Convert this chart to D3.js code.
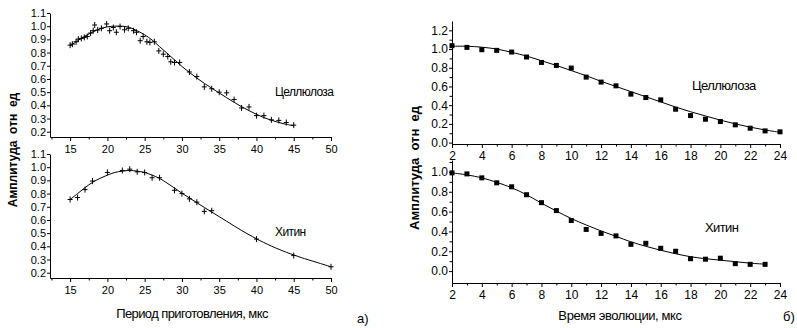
<!DOCTYPE html>
<html>
<head>
<meta charset="utf-8">
<script src="https://cdn.jsdelivr.net/npm/d3@7"></script>
<style>
body{margin:0;background:#fff;}
svg{display:block;}
.ax path,.ax line{stroke:#000;stroke-width:1;}
.ax text{fill:#000;}
</style>
</head>
<body>
<svg id="chart" width="797" height="328"></svg>
<script>
// а) период приготовления
var celluloseX=[15,15.3,15.8,16.1,16.5,16.9,17.3,17.75,18.1,18.3,18.7,19.2,19.9,20.3,20.8,21.2,21.7,22.3,22.8,23.5,23.9,24.4,24.8,25.3,25.7,26.3,26.9,27.5,28.1,28.5,29,29.7,31,32,33,34,35,36,37,38,39,40,41,42,43,44,45];
var celluloseY=[0.856,0.864,0.882,0.902,0.907,0.915,0.922,0.948,0.966,1.009,0.971,0.984,1.017,0.966,0.99,0.954,0.997,0.973,0.984,0.966,0.954,0.89,0.922,0.882,0.877,0.882,0.813,0.788,0.77,0.73,0.725,0.725,0.653,0.618,0.54,0.526,0.5,0.495,0.444,0.38,0.388,0.322,0.322,0.29,0.286,0.27,0.25];
var celluloseFitX=[15,16,17,18,19,20,21,22,23,24,25,26,27,28,29,30,31,32,33,34,35,36,37,38,39,40,41,42,43,44,45];
var celluloseFitY=[0.85,0.89,0.925,0.955,0.98,0.995,1.0,1.0,0.99,0.965,0.935,0.895,0.845,0.795,0.745,0.695,0.65,0.607,0.567,0.53,0.494,0.458,0.423,0.39,0.36,0.332,0.307,0.287,0.27,0.256,0.245];

var chitinX=[15,16,17,18,20,22,23,24,25,26,27,29,30,31,32,33,34,40,45,50];
var chitinY=[0.755,0.77,0.83,0.895,0.96,0.975,0.985,0.965,0.96,0.92,0.92,0.825,0.8,0.76,0.735,0.665,0.67,0.455,0.33,0.245];
var chitinFitX=[15,16,17,18,19,20,21,22,23,24,25,26,27,28,29,30,31,32,33,34,35,36,37,38,39,40,42,44,45,46,48,50];
var chitinFitY=[0.755,0.8,0.845,0.885,0.915,0.94,0.96,0.97,0.975,0.97,0.96,0.94,0.915,0.88,0.842,0.803,0.767,0.731,0.695,0.66,0.625,0.59,0.555,0.52,0.488,0.457,0.402,0.355,0.335,0.315,0.28,0.245];

// б) время эволюции
var evoCelluloseX=[2,3,4,5,6,7,8,9,10,11,12,13,14,15,16,17,18,19,20,21,22,23,24];
var evoCelluloseY=[1.036,1.018,0.993,0.986,0.968,0.915,0.857,0.825,0.797,0.7,0.647,0.607,0.518,0.482,0.457,0.357,0.289,0.25,0.225,0.19,0.154,0.125,0.115];
var evoCelluloseFitX=[2,3,4,5,6,7,8,9,10,11,12,13,14,15,16,17,18,19,20,21,22,23,24];
var evoCelluloseFitY=[1.03,1.03,1.02,1.0,0.965,0.925,0.875,0.825,0.77,0.715,0.655,0.6,0.545,0.49,0.435,0.38,0.33,0.285,0.24,0.2,0.165,0.135,0.11];

var evoChitinX=[2,3,4,5,6,7,8,9,10,11,12,13,14,15,16,17,18,19,20,21,22,23];
var evoChitinY=[0.99,0.98,0.94,0.89,0.85,0.77,0.69,0.61,0.51,0.42,0.38,0.355,0.27,0.28,0.23,0.2,0.125,0.12,0.13,0.075,0.068,0.068];
var evoChitinFitX=[2,3,4,5,6,7,8,9,10,11,12,13,14,15,16,17,18,19,20,21,22,23];
var evoChitinFitY=[0.99,0.97,0.94,0.895,0.84,0.77,0.685,0.605,0.53,0.465,0.405,0.35,0.295,0.25,0.21,0.175,0.145,0.125,0.11,0.095,0.08,0.07];

var leftMajorX=[15,20,25,30,35,40,45,50];
var leftMinorX=[12.5,17.5,22.5,27.5,32.5,37.5,42.5,47.5];
var leftTicksY=[0.2,0.3,0.4,0.5,0.6,0.7,0.8,0.9,1.0,1.1];
var rightMajorX=[2,4,6,8,10,12,14,16,18,20,22,24];
var rightMinorX=[3,5,7,9,11,13,15,17,19,21,23];
var rightMajorY=[0,0.2,0.4,0.6,0.8,1.0,1.2];
var rightMinorY=[0.1,0.3,0.5,0.7,0.9,1.1];

var svg=d3.select("#chart");
var narrow="'Liberation Sans Narrow','Arial Narrow','Liberation Sans',sans-serif";
var sans="'Liberation Sans',Arial,sans-serif";

function drawPanel(p){
	var x=d3.scaleLinear().domain(p.xDomain).range([p.left,p.right]);
	var y=d3.scaleLinear().domain(p.yDomain).range([p.bottom,p.top]);

	var g=svg.append("g");

	// minor ticks first
	g.append("g").classed("ax",true)
	.attr("transform","translate(0,"+p.bottom+")")
	.call(d3.axisBottom(x).tickValues(p.minorX).tickSize(2.5).tickFormat(""))
	.select(".domain").remove();
	if(p.minorY){
		g.append("g").classed("ax",true)
		.attr("transform","translate("+p.left+",0)")
		.call(d3.axisLeft(y).tickValues(p.minorY).tickSize(2.5).tickFormat(""))
		.select(".domain").remove();
	}

	var xa=g.append("g").classed("ax",true)
	.attr("transform","translate(0,"+p.bottom+")")
	.call(d3.axisBottom(x).tickValues(p.majorX).tickSize(4).tickSizeOuter(0).tickPadding(p.xPad).tickFormat(d3.format("d")));
	xa.selectAll("text").style("font-family",p.font).style("font-size",p.fontSize+"px");

	var ya=g.append("g").classed("ax",true)
	.attr("transform","translate("+p.left+",0)")
	.call(d3.axisLeft(y).tickValues(p.majorY).tickSize(3).tickSizeOuter(0).tickPadding(1).tickFormat(d3.format(".1f")));
	ya.selectAll("text").style("font-family",p.font).style("font-size",p.fontSize+"px");

	var line=d3.line()
	.x(d=>x(d[0]))
	.y(d=>y(d[1]))
	.curve(d3.curveCatmullRom);

	g.append("path")
	.datum(d3.zip(p.fitX,p.fitY))
	.attr("d",line)
	.attr("fill","none")
	.attr("stroke","#000")
	.attr("stroke-width",1);

	var pts=d3.zip(p.dataX,p.dataY);
	if(p.marker==="cross"){
		var c=g.selectAll(".pt").data(pts).enter().append("path")
		.classed("pt",true)
		.attr("d",d=>{
			var cx=x(d[0]),cy=y(d[1]);
			return "M"+(cx-2.5)+","+cy+"H"+(cx+2.5)+"M"+cx+","+(cy-3)+"V"+(cy+3);
		})
		.attr("stroke","#000")
		.attr("stroke-width",1);
	}else{
		g.selectAll(".pt").data(pts).enter().append("rect")
		.classed("pt",true)
		.attr("x",d=>x(d[0])-2.5)
		.attr("y",d=>y(d[1])-2.5)
		.attr("width",5)
		.attr("height",5)
		.attr("fill","#000");
	}

	g.append("text")
	.attr("x",p.labelX)
	.attr("y",p.labelY)
	.attr("font-family",p.labelFont)
	.attr("font-size",p.labelSize+"px")
	.attr("letter-spacing",p.labelSpacing||0)
	.text(p.label);
}

drawPanel({xDomain:[12.3,50],yDomain:[0.16,1.1],left:50,right:331,top:13,bottom:137,
	majorX:leftMajorX,minorX:leftMinorX,majorY:leftTicksY,minorY:null,xPad:4,
	font:narrow,fontSize:11,fitX:celluloseFitX,fitY:celluloseFitY,dataX:celluloseX,dataY:celluloseY,
	marker:"cross",label:"Целлюлоза",labelX:275,labelY:96,labelFont:narrow,labelSize:12,labelSpacing:-0.6});

drawPanel({xDomain:[12.3,50],yDomain:[0.16,1.1],left:50,right:331,top:154,bottom:278,
	majorX:leftMajorX,minorX:leftMinorX,majorY:leftTicksY,minorY:null,xPad:4,
	font:narrow,fontSize:11,fitX:chitinFitX,fitY:chitinFitY,dataX:chitinX,dataY:chitinY,
	marker:"cross",label:"Хитин",labelX:275,labelY:236,labelFont:narrow,labelSize:12,labelSpacing:-0.6});

drawPanel({xDomain:[2,24],yDomain:[-0.015,1.3],left:452,right:780,top:21,bottom:144,
	majorX:rightMajorX,minorX:rightMinorX,majorY:rightMajorY,minorY:rightMinorY,xPad:3,
	font:sans,fontSize:12,fitX:evoCelluloseFitX,fitY:evoCelluloseFitY,dataX:evoCelluloseX,dataY:evoCelluloseY,
	marker:"square",label:"Целлюлоза",labelX:692,labelY:90,labelFont:narrow,labelSize:13,labelSpacing:-0.6});

drawPanel({xDomain:[2,24],yDomain:[-0.12,1.12],left:452,right:780,top:160,bottom:283,
	majorX:rightMajorX,minorX:rightMinorX,majorY:rightMajorY.slice(0,6),minorY:rightMinorY,xPad:3,
	font:sans,fontSize:12,fitX:evoChitinFitX,fitY:evoChitinFitY,dataX:evoChitinX,dataY:evoChitinY,
	marker:"square",label:"Хитин",labelX:705,labelY:232,labelFont:narrow,labelSize:13,labelSpacing:-0.6});

// axis titles
svg.append("text")
.attr("transform","translate(17,150) rotate(-90)")
.attr("text-anchor","middle")
.attr("font-family",sans)
.attr("font-size","12px")
.attr("font-weight","bold")
.attr("xml:space","preserve")
.text("Амплитуда  отн  ед");

svg.append("text")
.attr("transform","translate(419,168) rotate(-90)")
.attr("text-anchor","middle")
.attr("font-family",sans)
.attr("font-size","13px")
.attr("font-weight","bold")
.attr("xml:space","preserve")
.text("Амплитуда  отн  ед");

svg.append("text")
.attr("x",192).attr("y",318)
.attr("text-anchor","middle")
.attr("font-family",narrow)
.attr("font-size","13px")
.attr("letter-spacing",-0.6)
.text("Период приготовления, мкс");

svg.append("text")
.attr("x",620).attr("y",320)
.attr("text-anchor","middle")
.attr("font-family",narrow)
.attr("font-size","13px")
.attr("letter-spacing",-0.4)
.text("Время эволюции, мкс");

svg.append("text")
.attr("x",357).attr("y",323)
.attr("font-family",sans)
.attr("font-size","13px")
.text("а)");

svg.append("text")
.attr("x",783).attr("y",321)
.attr("font-family",sans)
.attr("font-size","13px")
.text("б)");
</script>
</body>
</html>
